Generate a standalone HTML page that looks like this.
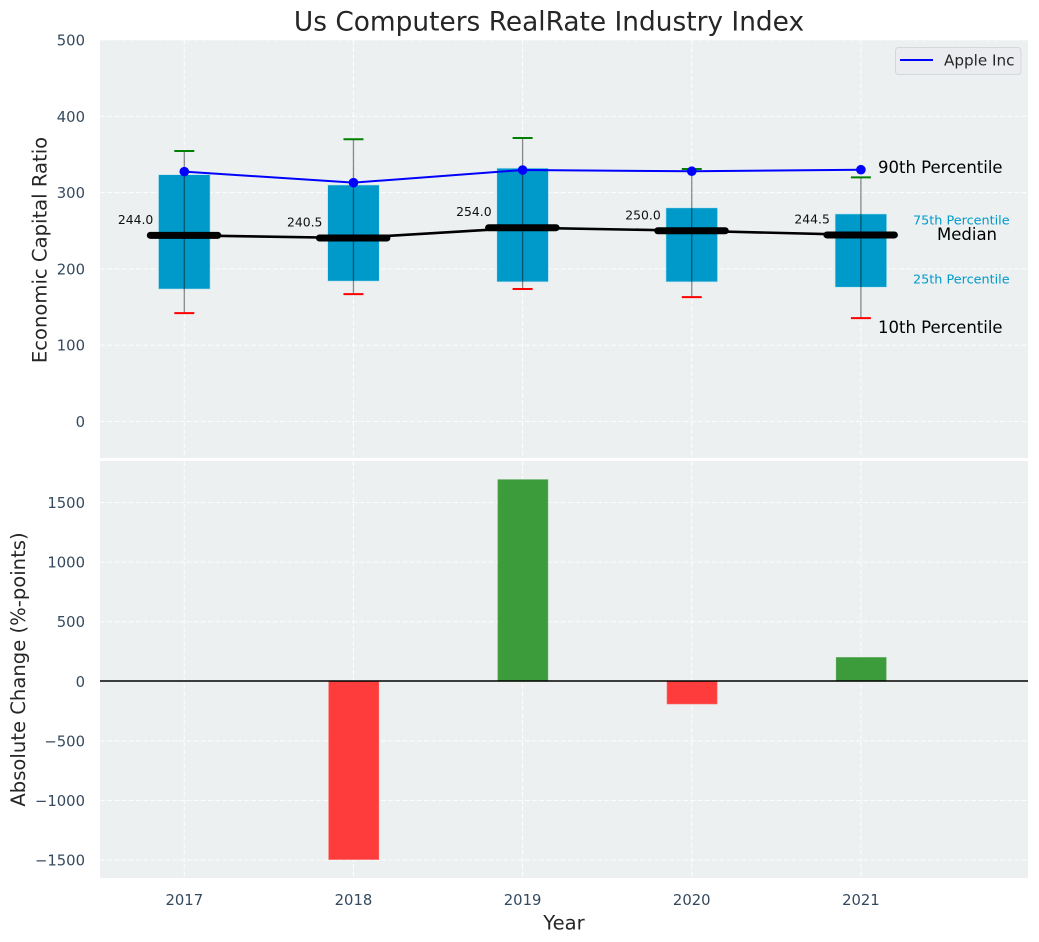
<!DOCTYPE html>
<html lang="en">
<head>
<meta charset="utf-8">
<title>Us Computers RealRate Industry Index</title>
<style>
html,body{margin:0;padding:0;background:#fff;width:1039px;height:942px;overflow:hidden}
svg{display:block;font-family:"DejaVu Sans","Liberation Sans",sans-serif}
</style>
</head>
<body>
<svg id="chart" xmlns="http://www.w3.org/2000/svg" width="1039" height="942" viewBox="0 0 1039 942"></svg>
<script>
const years = ['2017', '2018', '2019', '2020', '2021'];
const p90 = [354.5, 370, 371.5, 331, 320];
const p75 = [323.5, 310, 332, 280, 272];
const medians = [244.0, 240.5, 254.0, 250.0, 244.5];
const p25 = [173.6, 184, 183, 183, 176];
const p10 = [142, 167, 173.6, 163, 135.5];
const apple = [327.5, 313, 329.6, 328, 330];
const changes = [0, -1495, 1692, -190, 200];
const topTicks = [0, 100, 200, 300, 400, 500];
const bottomTicks = [-1500, -1000, -500, 0, 500, 1000, 1500];

const svg = document.getElementById('chart');
const NS = 'http://www.w3.org/2000/svg';
const L = 100, R = 1028, T1 = 40, B1 = 458, T2 = 461, B2 = 878;
const X = i => 184.3 + i * 169.15;
const Y1 = v => 421.5 - v * 0.763;
const Y2 = v => 681.3 - v * 0.1192;
const BW = 0.305 * 169.15;

function make(tag, attrs, parent) {
  const el = document.createElementNS(NS, tag);
  for (const k in attrs) el.setAttribute(k, attrs[k]);
  (parent || svg).appendChild(el);
  return el;
}
function text(str, x, y, size, fill, anchor, parent) {
  const el = make('text', {x: x, y: y, 'font-size': size, fill: fill, 'text-anchor': anchor || 'start', 'dominant-baseline': 'central'}, parent);
  el.textContent = str;
  return el;
}
const gridStyle = {stroke: '#fff', 'stroke-width': 1.1, 'stroke-dasharray': '5 2.2', opacity: 0.85};
function tickLabel(v) { return String(v).replace('-', '\u2212'); }

const title = text('Us Computers RealRate Industry Index', 549, 22, 26.4, '#262626', 'middle');



// Top panel
const panel1 = make('rect', {x: L, y: T1, width: R - L, height: B1 - T1, fill: '#ecf0f1'});


const panel2 = make('rect', {x: L, y: T2, width: R - L, height: B2 - T2, fill: '#ecf0f1'});



topTicks.forEach(v => {
  const g = make('line', Object.assign({x1: L, x2: R, y1: Y1(v), y2: Y1(v)}, gridStyle));
  
  
  const t = text(tickLabel(v), 85, Y1(v) + 1, 14.8, '#34495e', 'end');
  
  
});
bottomTicks.forEach(v => {
  const g = make('line', Object.assign({x1: L, x2: R, y1: Y2(v), y2: Y2(v)}, gridStyle));
  
  
  const t = text(tickLabel(v), 85, Y2(v) + 1, 14.8, '#34495e', 'end');
  
  
});
years.forEach((yr, i) => {
  const g1 = make('line', Object.assign({x1: X(i), x2: X(i), y1: T1, y2: B1}, gridStyle));
  
  
  const g2 = make('line', Object.assign({x1: X(i), x2: X(i), y1: T2, y2: B2}, gridStyle));
  
  
  const t = text(yr, X(i), 900.5, 14.8, '#34495e', 'middle');
  
  
});

// Boxes
years.forEach((yr, i) => {
  const box = make('rect', {x: X(i) - BW / 2, y: Y1(p75[i]), width: BW, height: Y1(p25[i]) - Y1(p75[i]), fill: '#009aca', stroke: '#bfe6f2', 'stroke-width': 0.6});
  
  
  const w = make('line', {x1: X(i), x2: X(i), y1: Y1(p90[i]), y2: Y1(p10[i]), stroke: '#000', 'stroke-opacity': 0.45, 'stroke-width': 1.3});
  
  
  const hi = make('line', {x1: X(i) - 10, x2: X(i) + 10, y1: Y1(p90[i]), y2: Y1(p90[i]), stroke: '#008000', 'stroke-width': 2});
  
  
  const lo = make('line', {x1: X(i) - 10, x2: X(i) + 10, y1: Y1(p10[i]), y2: Y1(p10[i]), stroke: '#ff0000', 'stroke-width': 2});
  
  
});

// Median line
const medianLine = make('polyline', {points: medians.map((v, i) => X(i) + ',' + Y1(v)).join(' '), fill: 'none', stroke: '#000', 'stroke-width': 2.6});


medians.forEach((v, i) => {
  const m = make('line', {x1: X(i) - 34, x2: X(i) + 33.5, y1: Y1(v), y2: Y1(v), stroke: '#000', 'stroke-width': 7, 'stroke-linecap': 'round'});
  
  
  const t = text(v.toFixed(1), X(i) - 31, Y1(v) - 16, 12.4, '#111', 'end');
  
  
});

// Apple line
const appleLine = make('polyline', {points: apple.map((v, i) => X(i) + ',' + Y1(v)).join(' '), fill: 'none', stroke: '#0000ff', 'stroke-width': 2});


apple.forEach((v, i) => {
  const c = make('circle', {cx: X(i), cy: Y1(v), r: 4.8, fill: '#0000ff'});
  
  
});

// Percentile annotations
const a90 = text('90th Percentile', 878, 167.5, 16.5, '#000');


const a75 = text('75th Percentile', 913, 221, 12.8, '#009aca');


const aMed = text('Median', 937, 234.5, 16.5, '#000');


const a25 = text('25th Percentile', 913, 280, 12.8, '#009aca');


const a10 = text('10th Percentile', 878, 327.5, 16.5, '#000');



// Legend
const legend = make('g', {});


const legendBox = make('rect', {x: 895.5, y: 47.5, width: 125.5, height: 27, rx: 3, fill: '#eaecf0', stroke: '#d5d7da', 'stroke-width': 1}, legend);


const legendLine = make('line', {x1: 900, x2: 933, y1: 60, y2: 60, stroke: '#0000ff', 'stroke-width': 2}, legend);


const legendText = text('Apple Inc', 944, 60.5, 15.2, '#262626', 'start', legend);



// Bottom bars
changes.forEach((v, i) => {
  if (v === 0) return;
  const y0 = Math.min(Y2(v), Y2(0));
  const bar = make('rect', {x: X(i) - 24.7, y: y0, width: 50, height: Math.abs(Y2(v) - Y2(0)), fill: v > 0 ? '#3c9c3c' : '#ff3c3c', stroke: v > 0 ? '#5aab5a' : '#ff5c5c', 'stroke-width': 0.6});
  
  
});
const zero = make('line', {x1: L, x2: R, y1: 681, y2: 681, stroke: '#000', 'stroke-width': 1.4});



// Axis titles
const yt1 = text('Economic Capital Ratio', 40, 250, 19.6, '#262626', 'middle');
yt1.setAttribute('transform', 'rotate(-90 40 250)');


const yt2 = text('Absolute Change (%-points)', 18.5, 669.5, 19.6, '#262626', 'middle');
yt2.setAttribute('transform', 'rotate(-90 18.5 669.5)');


const xt = text('Year', 564, 923, 19.6, '#262626', 'middle');


</script>
</body>
</html>
